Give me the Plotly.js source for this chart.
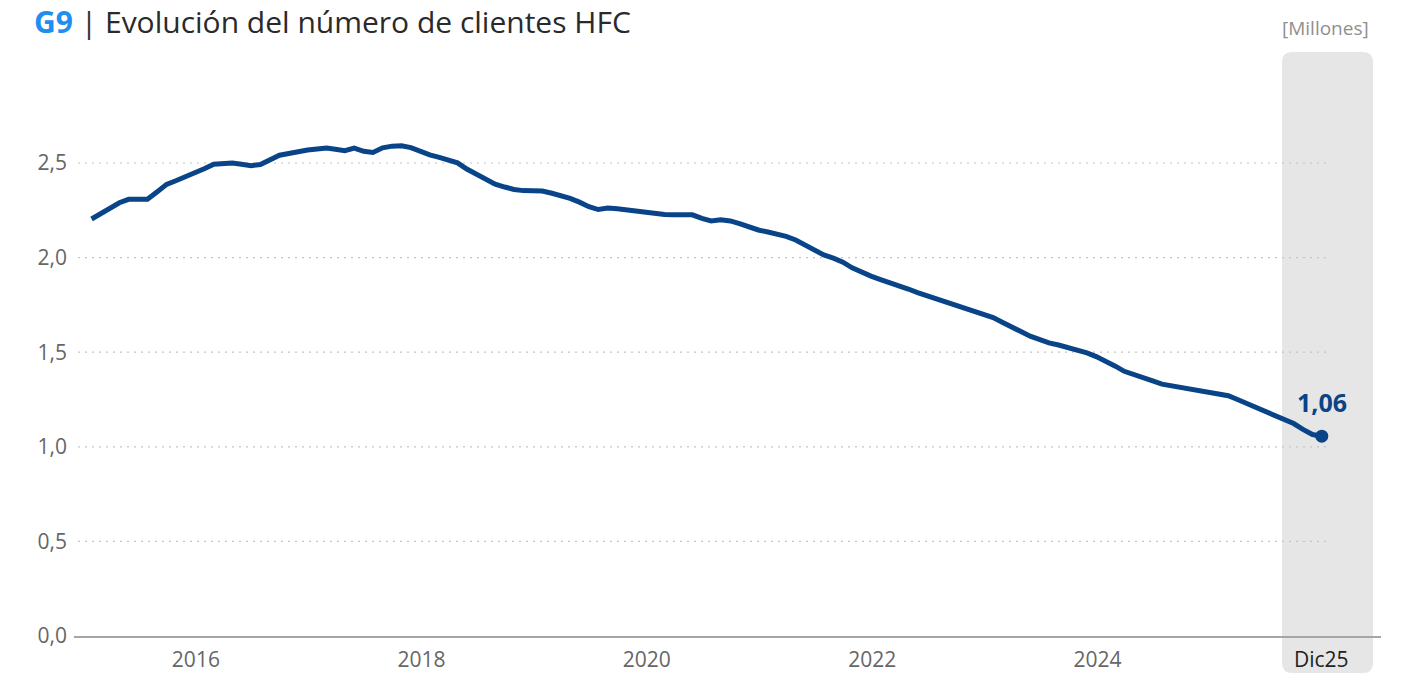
<!DOCTYPE html>
<html>
<head>
<meta charset="utf-8">
<script src="https://cdn.plot.ly/plotly-3.0.1.min.js"></script>
<style>html,body{margin:0;padding:0;background:#fff;}#chart{width:1404px;height:674px;}</style>
</head>
<body>
<div id="chart"></div>
<script>
// Monthly series, Jan 2015 – Dec 2025 (millions of HFC clients)
const startYear = 2015;
const clientes = [
  2.204, 2.233, 2.261, 2.290, 2.308, 2.308, 2.308, 2.347, 2.387, 2.406, 2.426, 2.446,
  2.470, 2.494, 2.496, 2.500, 2.493, 2.486, 2.492, 2.520, 2.541, 2.550, 2.563, 2.569,
  2.574, 2.579, 2.573, 2.565, 2.579, 2.562, 2.556, 2.580, 2.589, 2.591, 2.581, 2.562,
  2.543, 2.530, 2.518, 2.501, 2.468, 2.441, 2.409, 2.388, 2.373, 2.360, 2.354, 2.352,
  2.352, 2.340, 2.329, 2.313, 2.293, 2.269, 2.254, 2.262, 2.258, 2.252, 2.244, 2.237,
  2.232, 2.228, 2.226, 2.228, 2.226, 2.207, 2.194, 2.200, 2.194, 2.179, 2.160, 2.146,
  2.135, 2.123, 2.112, 2.093, 2.068, 2.039, 2.014, 1.997, 1.976, 1.946, 1.921, 1.902,
  1.884, 1.869, 1.853, 1.834, 1.815, 1.798, 1.782, 1.768, 1.751, 1.734, 1.718, 1.702,
  1.683, 1.657, 1.631, 1.609, 1.585, 1.565, 1.549, 1.538, 1.525, 1.511, 1.496, 1.477,
  1.455, 1.426, 1.399, 1.384, 1.367, 1.348, 1.331, 1.322, 1.317, 1.308, 1.301, 1.291,
  1.281, 1.270, 1.251, 1.230, 1.207, 1.185, 1.165, 1.146, 1.123, 1.092, 1.065, 1.056
];
const yearTicks = ['2016', '2018', '2020', '2022', '2024'];
const yTicks = [0, 0.5, 1.0, 1.5, 2.0, 2.5];
const lastTickLabel = 'Dic25';
const unitsLabel = '[Millones]';
const titleCode = 'G9';
const titleText = 'Evolución del número de clientes HFC';

const fechas = clientes.map((v, i) => {
  const y = startYear + Math.floor(i / 12);
  const m = (i % 12) + 1;
  return y + '-' + String(m).padStart(2, '0') + '-28';
});
const lastX = fechas[fechas.length - 1];
const lastY = clientes[clientes.length - 1];
const lastText = lastY.toFixed(2).replace('.', ',');

const lineColor = '#084487';
const FONT = 'Open Sans, Noto Sans, sans-serif';

// plot area in px: left 74, right 1381, top 52, bottom 636
const W = 1307, H = 584;
const px = (x) => (x - 74) / W;
const py = (y) => (636 - y) / H;

// rounded gray highlight band
const bx0 = px(1282), bx1 = px(1373), by0 = py(673), by1 = py(52);
const rx = 10 / W, ry = 10 / H;
const bandPath = `M ${bx0},${by0 + ry} L ${bx0},${by1 - ry} Q ${bx0},${by1} ${bx0 + rx},${by1} ` +
  `L ${bx1 - rx},${by1} Q ${bx1},${by1} ${bx1},${by1 - ry} L ${bx1},${by0 + ry} ` +
  `Q ${bx1},${by0} ${bx1 - rx},${by0} L ${bx0 + rx},${by0} Q ${bx0},${by0} ${bx0},${by0 + ry} Z`;

const shapes = [{
  type: 'path', path: bandPath, xref: 'paper', yref: 'paper',
  fillcolor: '#e6e6e6', line: {width: 0}, layer: 'below'
}];
yTicks.filter(v => v > 0).forEach(v => {
  shapes.push({
    type: 'line', xref: 'paper', yref: 'y', x0: px(78), x1: px(1326), y0: v, y1: v,
    line: {color: '#c4c4c4', width: 1.2, dash: '2px,5px'}, layer: 'below'
  });
});

const traces = [
  {
    x: fechas, y: clientes, type: 'scatter', mode: 'lines',
    line: {color: lineColor, width: 5, shape: 'linear'},
    hoverinfo: 'skip'
  },
  {
    x: [lastX], y: [lastY], type: 'scatter', mode: 'markers',
    marker: {color: lineColor, size: 13},
    hoverinfo: 'skip'
  }
];

const layout = {
  width: 1404, height: 674,
  margin: {l: 74, r: 23, t: 52, b: 38, pad: 0},
  paper_bgcolor: '#ffffff', plot_bgcolor: 'rgba(0,0,0,0)',
  showlegend: false,
  separators: ',.',
  font: {family: FONT, color: '#666666'},
  title: {
    text: '<b><span style="color:#1f8ef1">' + titleCode + '</span></b> <span style="color:#333">|</span> ' + titleText,
    x: 34 / 1404, xref: 'container', xanchor: 'left',
    y: 1 - 22 / 674, yref: 'container', yanchor: 'middle',
    font: {family: FONT, size: 30, color: '#2a2a2a'}
  },
  xaxis: {
    type: 'date',
    range: ['2014-12-02', '2026-07-08'],
    tickvals: yearTicks.map(y => y + '-01-01'),
    ticktext: yearTicks,
    showgrid: false, zeroline: false,
    showline: true, linecolor: '#a6a6a6', linewidth: 2,
    ticks: '', ticklabelstandoff: 4,
    tickfont: {family: FONT, size: 21, color: '#666666'}
  },
  yaxis: {
    range: [0, 584 / 189.2],
    tickvals: yTicks,
    tickformat: '.1f',
    showgrid: false, zeroline: false, showline: false,
    ticks: '', ticklabelstandoff: 6,
    tickfont: {family: FONT, size: 21, color: '#666666'}
  },
  shapes: shapes,
  annotations: [
    {
      text: '<b>' + lastText + '</b>', x: lastX, xref: 'x', y: lastY, yref: 'y',
      xanchor: 'center', yanchor: 'middle', yshift: 34, showarrow: false,
      font: {family: FONT, size: 25, color: lineColor}
    },
    {
      text: lastTickLabel, x: lastX, xref: 'x', y: py(659), yref: 'paper',
      xanchor: 'center', yanchor: 'middle', showarrow: false,
      font: {family: FONT, size: 21, color: '#222222'}
    },
    {
      text: unitsLabel, x: px(1371), xref: 'paper', y: py(28), yref: 'paper',
      xanchor: 'right', yanchor: 'middle', showarrow: false,
      font: {family: FONT, size: 19, color: '#8f8f8f'}
    }
  ]
};

Plotly.newPlot('chart', traces, layout, {displayModeBar: false, staticPlot: true});
</script>
</body>
</html>
